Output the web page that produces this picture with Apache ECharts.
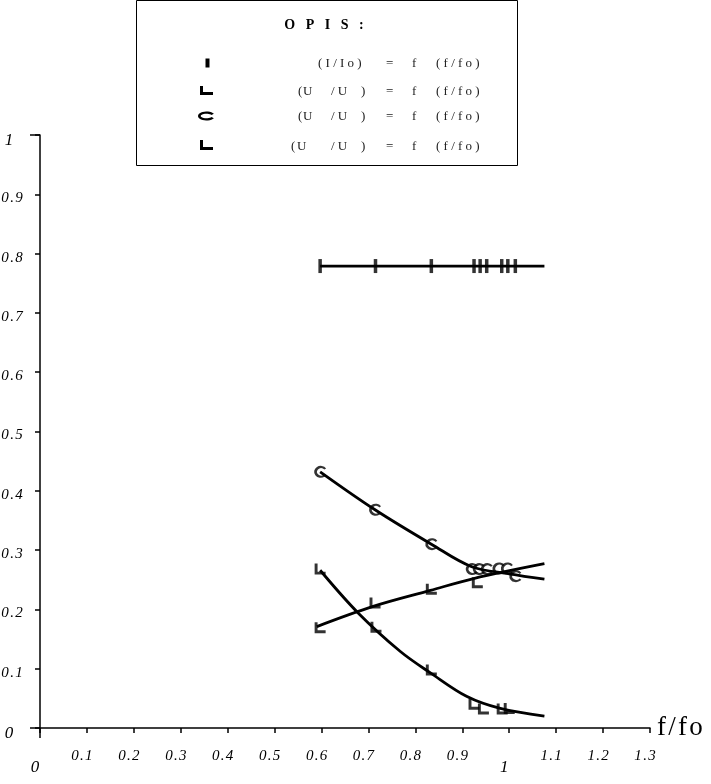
<!DOCTYPE html>
<html><head><meta charset="utf-8">
<script src="https://cdn.jsdelivr.net/npm/echarts@6/dist/echarts.min.js"></script>
<style>html,body{margin:0;padding:0;background:#fff}#c{width:711px;height:784px}</style>
</head><body><div id="c"></div>
<script>
// ---- tick labels ----
const xTickLabels = ['0','0.1','0.2','0.3','0.4','0.5','0.6','0.7','0.8','0.9','1','1.1','1.2','1.3'];
const yTickLabels = ['0','0.1','0.2','0.3','0.4','0.5','0.6','0.7','0.8','0.9','1'];
const xAxisName = 'f/fo';

// ---- series I : (I/Io) = f(f/fo) ----
const iX = [0.597, 0.715, 0.834, 0.925, 0.938, 0.952, 0.984, 0.997, 1.013];
const iY = [0.779, 0.779, 0.779, 0.779, 0.779, 0.779, 0.779, 0.779, 0.779];
const iTrendX = [0.597, 1.075];
const iTrendY = [0.779, 0.779];

// ---- series C ----
const cX = [0.597, 0.714, 0.834, 0.920, 0.935, 0.952, 0.977, 0.995, 1.013];
const cY = [0.432, 0.368, 0.310, 0.268, 0.268, 0.268, 0.269, 0.269, 0.256];
const cTrendX = [0.597, 0.714, 0.834, 0.920, 1.000, 1.075];
const cTrendY = [0.432, 0.368, 0.310, 0.272, 0.260, 0.251];

// ---- series L (rising) ----
const lrX = [0.597, 0.714, 0.834, 0.932];
const lrY = [0.169, 0.211, 0.234, 0.245];
const lrTrendX = [0.590, 0.710, 0.832, 0.924, 1.075];
const lrTrendY = [0.171, 0.205, 0.232, 0.252, 0.277];

// ---- series L (falling) ----
const lfX = [0.597, 0.716, 0.834, 0.925, 0.945, 0.985, 1.000];
const lfY = [0.268, 0.170, 0.098, 0.040, 0.032, 0.032, 0.033];
const lfTrendX = [0.597, 0.678, 0.768, 0.832, 0.910, 0.981, 1.075];
const lfTrendY = [0.266, 0.194, 0.129, 0.093, 0.053, 0.033, 0.020];

const zip = (a, b) => a.map((v, i) => [v, b[i]]);
const space = s => s.split('').join('\u200A');

const C_PATH = 'path://M10.91,2.56 A6,6 0 1 0 10.91,9.44 L9.28,8.29 A3.7,3.7 0 1 1 9.28,3.71 Z';
const L_PATH = 'path://M0,0 L3.2,0 L3.2,8.8 L12,8.8 L12,12 L0,12 Z';
const FONT = "'Liberation Serif', 'DejaVu Serif', serif";

const trend = (x, y) => ({
  type: 'line', data: zip(x, y), smooth: 0.35, showSymbol: false, symbol: 'none',
  lineStyle: { color: '#000', width: 2.8 }, z: 2, silent: true
});
const marks = (x, y, symbol, size) => ({
  type: 'scatter', data: zip(x, y), symbol: symbol, symbolSize: size,
  itemStyle: { color: '#000' }, z: 3, silent: true
});

// C-shaped legend glyph (open elliptic ring)
function cRing(cx, cy, rxo, ryo, rxi, ryi, gapDeg) {
  const pts = [];
  const a0 = gapDeg * Math.PI / 180, a1 = 2 * Math.PI - a0;
  const n = 24;
  for (let k = 0; k <= n; k++) { const a = a0 + (a1 - a0) * k / n; pts.push([cx + rxo * Math.cos(a), cy - ryo * Math.sin(a)]); }
  for (let k = n; k >= 0; k--) { const a = a0 + (a1 - a0) * k / n; pts.push([cx + rxi * Math.cos(a), cy - ryi * Math.sin(a)]); }
  return pts;
}

// legend graphic
const legendRows = [
  { y: 63.5, tokens: [['( I / I o )', 318], ['=', 386], ['f', 412], ['( f / f o )', 436]] },
  { y: 91.5, tokens: [['(', 298], ['U', 303], ['/ U', 331], [')', 361], ['=', 386], ['f', 412], ['( f / f o )', 436]] },
  { y: 117, tokens: [['(', 298], ['U', 303], ['/ U', 331], [')', 361], ['=', 386], ['f', 412], ['( f / f o )', 436]] },
  { y: 147, tokens: [['(', 291], ['U', 297], ['/ U', 331], [')', 361], ['=', 386], ['f', 412], ['( f / f o )', 436]] }
];
const graphic = [
  { type: 'rect', shape: { x: 136.5, y: 0.5, width: 381, height: 165 }, style: { fill: '#fff', stroke: '#000', lineWidth: 1 }, z: 10 },
  { type: 'text', x: 324, y: 25, style: { text: 'O   P   I   S   :', font: "bold 14px 'Liberation Serif', serif", fill: '#000', textAlign: 'center', textVerticalAlign: 'middle' }, z: 11 },
  { type: 'rect', shape: { x: 205.5, y: 58.5, width: 4, height: 9 }, style: { fill: '#000' }, z: 11 },
  { type: 'polygon', shape: { points: [[200, 86], [203, 86], [203, 92], [213, 92], [213, 95], [200, 95]] }, style: { fill: '#000' }, z: 11 },
  { type: 'polygon', shape: { points: cRing(206.5, 116, 8.5, 4.5, 5.8, 2.2, 30) }, style: { fill: '#000' }, z: 11 },
  { type: 'polygon', shape: { points: [[200, 140], [203, 140], [203, 147], [213, 147], [213, 150], [200, 150]] }, style: { fill: '#000' }, z: 11 },
  // axis-line overhangs at the origin and top end
  { type: 'line', shape: { x1: 30, y1: 728, x2: 40, y2: 728 }, style: { stroke: '#000', lineWidth: 1.5 }, z: 5 },
  { type: 'line', shape: { x1: 40, y1: 728, x2: 40, y2: 738 }, style: { stroke: '#000', lineWidth: 1.5 }, z: 5 },
  { type: 'line', shape: { x1: 30, y1: 135, x2: 40, y2: 135 }, style: { stroke: '#000', lineWidth: 1.5 }, z: 5 }
];
legendRows.forEach(r => r.tokens.forEach(t => graphic.push({
  type: 'text', x: t[1], y: r.y, z: 11,
  style: { text: t[0], font: "13px 'Liberation Serif', serif", fill: '#222', textAlign: 'left', textVerticalAlign: 'middle' }
})));

const chart = echarts.init(document.getElementById('c'), null, { renderer: 'canvas' });
chart.setOption({
  backgroundColor: '#fff',
  animation: false,
  grid: { left: 40, right: 61, top: 135, bottom: 56, containLabel: false, outerBoundsMode: 'none' },
  xAxis: {
    type: 'value', min: 0, max: 1.3, interval: 0.1,
    name: space(xAxisName), nameLocation: 'end', nameGap: 7,
    nameTextStyle: { fontFamily: FONT, fontSize: 27, color: '#000', padding: [0, 0, 5, 0] },
    axisLine: { show: true, onZero: false, lineStyle: { color: '#000', width: 1.5 } },
    axisTick: { show: true, inside: false, length: 5, lineStyle: { color: '#000', width: 1.5 } },
    splitLine: { show: false },
    axisLabel: {
      margin: 21, color: '#000', fontFamily: FONT, fontStyle: 'italic', fontSize: 15,
      formatter: (v, i) => {
        const s = xTickLabels[i];
        return (s.indexOf('.') < 0 ? '{b|' : '{a|') + space(s) + '}';
      },
      rich: {
        a: { fontFamily: FONT, fontStyle: 'italic', fontSize: 15, color: '#000', padding: [0, 10, 0, 0] },
        b: { fontFamily: FONT, fontStyle: 'italic', fontSize: 17, color: '#000', padding: [10, 10, 0, 0] }
      }
    }
  },
  yAxis: {
    type: 'value', min: 0, max: 1, interval: 0.1,
    axisLine: { show: true, onZero: false, lineStyle: { color: '#000', width: 1.5 } },
    axisTick: { show: true, inside: false, length: 5, lineStyle: { color: '#000', width: 1.5 } },
    splitLine: { show: false },
    axisLabel: {
      margin: 28, align: 'center', color: '#000', fontFamily: FONT, fontStyle: 'italic', fontSize: 15,
      formatter: (v, i) => {
        const s = yTickLabels[i];
        return (s.indexOf('.') < 0 ? '{b|' : '{a|') + space(s) + '}';
      },
      rich: {
        a: { fontFamily: FONT, fontStyle: 'italic', fontSize: 15, color: '#000', padding: [8, 0, 0, 0] },
        b: { fontFamily: FONT, fontStyle: 'italic', fontSize: 17, color: '#000', padding: [11, 6, 0, 0] }
      }
    }
  },
  graphic: graphic,
  series: [
    trend(iTrendX, iTrendY),
    trend(cTrendX, cTrendY),
    trend(lrTrendX, lrTrendY),
    trend(lfTrendX, lfTrendY),
    marks(iX, iY, 'rect', [3.5, 14]),
    marks(cX, cY, C_PATH, [12, 12]),
    marks(lrX, lrY, L_PATH, [11, 11]),
    marks(lfX, lfY, L_PATH, [11, 11])
  ]
});
</script></body></html>
